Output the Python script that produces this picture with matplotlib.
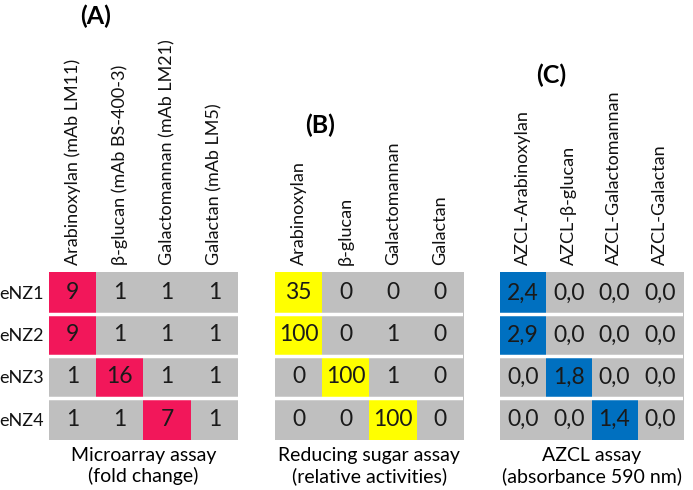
import numpy as np
import matplotlib
matplotlib.use("Agg")
import matplotlib.pyplot as plt
from matplotlib.colors import ListedColormap

plt.rcParams['font.family'] = ['Lato', 'DejaVu Sans']

# data
strains = ["eNZ1", "eNZ2", "eNZ3", "eNZ4"]
cols_a = ["Arabinoxylan (mAb LM11)", "β-glucan (mAb BS-400-3)",
          "Galactomannan (mAb LM21)", "Galactan (mAb LM5)"]
cols_b = ["Arabinoxylan", "β-glucan", "Galactomannan", "Galactan"]
cols_c = ["AZCL-Arabinoxylan", "AZCL-β-glucan", "AZCL-Galactomannan", "AZCL-Galactan"]
vals_a = [[9, 1, 1, 1], [9, 1, 1, 1], [1, 16, 1, 1], [1, 1, 7, 1]]
vals_b = [[35, 0, 0, 0], [100, 0, 1, 0], [0, 100, 1, 0], [0, 0, 100, 0]]
vals_c = [[2.4, 0.0, 0.0, 0.0], [2.9, 0.0, 0.0, 0.0],
          [0.0, 1.8, 0.0, 0.0], [0.0, 0.0, 1.4, 0.0]]
xlabels = ["Microarray assay\n(fold change)",
           "Reducing sugar assay\n(relative activities)",
           "AZCL assay\n(absorbance 590 nm)"]
panel_tags = ["(A)", "(B)", "(C)"]

gray = "#BFBFBF"
hi_colors = ["#F2175A", "#FFFF00", "#0070C0"]

fig = plt.figure(figsize=(6.93, 4.90), dpi=100)

# axes boxes in figure fraction
boxes = [[0.0707, 0.102, 0.2727, 0.343],
         [0.397, 0.102, 0.2713, 0.343],
         [0.7215, 0.102, 0.2641, 0.343]]
tag_pos = [(0.138, 0.967), (0.462, 0.745), (0.795, 0.847)]


def fmt(v, k):
    if k == 2:
        return f"{v:.1f}".replace(".", ",")
    return str(v)


for k, (vals, cols) in enumerate(zip([vals_a, vals_b, vals_c], [cols_a, cols_b, cols_c])):
    arr = np.array(vals, dtype=float)
    mask = (arr == arr.max(axis=1, keepdims=True)).astype(int)
    ax = fig.add_axes(boxes[k])
    ax.imshow(mask, cmap=ListedColormap([gray, hi_colors[k]]), vmin=0, vmax=1,
              aspect="auto", interpolation="nearest")
    for i in range(arr.shape[0]):
        for j in range(arr.shape[1]):
            ax.text(j, i, fmt(vals[i][j], k), ha="center", va="center",
                    fontsize=16.5, color="#1a1a1a")
    for i in range(1, arr.shape[0]):
        ax.axhline(i - 0.5, color="white", lw=2.5)
    ax.xaxis.tick_top()
    ax.set_xticks(range(len(cols)))
    ax.set_xticklabels(cols, rotation=90, fontsize=13, color="#111111")
    ax.tick_params(length=0, pad=5)
    if k == 0:
        ax.set_yticks(range(len(strains)))
        ax.set_yticklabels(strains, fontsize=13, color="#111111")
        ax.tick_params(axis="y", pad=4)
    else:
        ax.set_yticks([])
    ax.set_xlabel(xlabels[k], fontsize=14, labelpad=5, linespacing=1.2)
    ax.xaxis.set_label_position("bottom")
    for s in ax.spines.values():
        s.set_visible(False)
    fig.text(tag_pos[k][0], tag_pos[k][1], panel_tags[k], ha="center", va="center",
             fontsize=18, fontweight="bold")

fig.savefig("out.png", dpi=100)
